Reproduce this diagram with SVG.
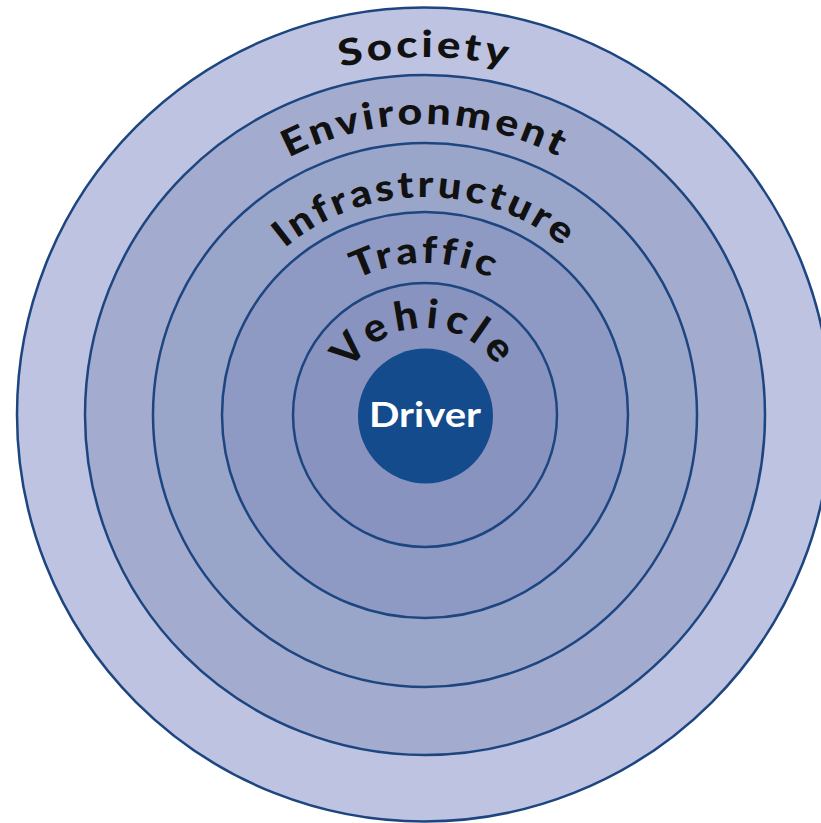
<svg xmlns="http://www.w3.org/2000/svg" width="821" height="823" viewBox="0 0 821 823">
<style>
.ring{stroke:#1d4580;stroke-width:2.5}
.lbl{font-family:"Lato","Liberation Sans",sans-serif;font-weight:900;font-size:37px;fill:#111;letter-spacing:3px;font-variant-ligatures:none}
.drv{font-family:"Lato","Liberation Sans",sans-serif;font-weight:700;font-size:34px;fill:#fff}
</style>
<defs>
<path id="pSociety" d="M67,415 A358,358 0 0 1 783,415"/>
<path id="pEnv" d="M134,415 A291,291 0 0 1 716,415"/>
<path id="pInfra" d="M207,415 A218,218 0 0 1 643,415"/>
<path id="pTraffic" d="M273,415 A152,152 0 0 1 577,415"/>
<path id="pVehicle" d="M338,415 A87,87 0 0 1 512,415"/>
</defs>
<rect width="821" height="823" fill="#fff"/>
<g id="society">
<circle class="ring" cx="424" cy="414.5" r="407" fill="#bdc3e0"/>
<text class="lbl"><textPath href="#pSociety" startOffset="50%" text-anchor="middle" textLength="170" lengthAdjust="spacingAndGlyphs">Society</textPath></text>
</g>
<g id="environment">
<circle class="ring" cx="425" cy="415" r="340" fill="#a3abcf"/>
<text class="lbl"><textPath href="#pEnv" startOffset="50%" text-anchor="middle" textLength="284" lengthAdjust="spacingAndGlyphs">Environment</textPath></text>
</g>
<g id="infrastructure">
<circle class="ring" cx="425" cy="415" r="272" fill="#9aa5ca"/>
<text class="lbl"><textPath href="#pInfra" startOffset="50%" text-anchor="middle" textLength="305" lengthAdjust="spacingAndGlyphs">Infrastructure</textPath></text>
</g>
<g id="traffic">
<circle class="ring" cx="425" cy="415" r="203" fill="#8f9ac4"/>
<text class="lbl"><textPath href="#pTraffic" startOffset="50%" text-anchor="middle" textLength="142" lengthAdjust="spacingAndGlyphs">Traffic</textPath></text>
</g>
<g id="vehicle">
<circle class="ring" cx="425" cy="415" r="132" fill="#8893bf"/>
<text class="lbl" style="font-size:40px;letter-spacing:6px"><textPath href="#pVehicle" startOffset="50%" text-anchor="middle" textLength="180" lengthAdjust="spacingAndGlyphs">Vehicle</textPath></text>
</g>
<g id="driver">
<circle cx="425.5" cy="416" r="67.5" fill="#134b8c"/>
<text class="drv" x="425" y="427" text-anchor="middle" textLength="112" lengthAdjust="spacingAndGlyphs">Driver</text>
</g>
</svg>
